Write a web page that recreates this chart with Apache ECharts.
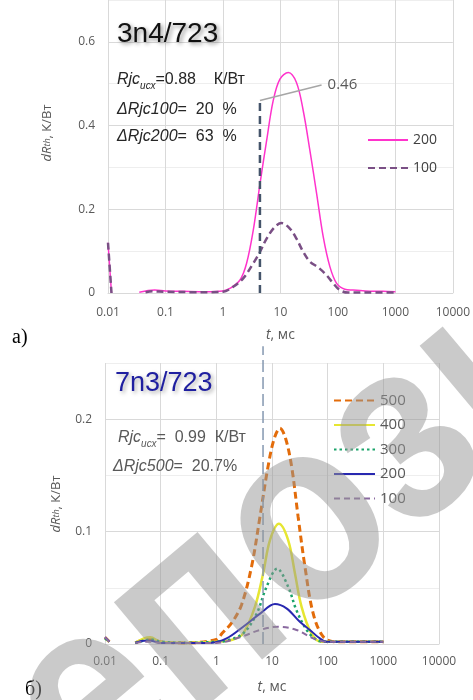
<!DOCTYPE html>
<html>
<head>
<meta charset="utf-8">
<script src="https://cdn.jsdelivr.net/npm/echarts@6/dist/echarts.min.js"></script>
<style>
html, body { margin: 0; padding: 0; background: #fff; }
#chart { width: 473px; height: 700px; }
</style>
</head>
<body>
<div id="chart"></div>
<script>
// а) 3n4/723 — dRth(t), t в мс
var tA200 = [0.01, 0.0115, 0.02, 0.035, 0.05, 0.065, 0.1, 0.2, 0.5, 1, 1.32, 1.98, 2.58, 3.37, 4.4, 5.75, 7.5, 9.8, 13.7, 19, 24.9, 32.6, 42.7, 55.6, 72.5, 95, 132, 183, 300, 600, 1000];
var vA200 = [0.12, 0, null, 0.002, 0.006, 0.007, 0.005, 0.004, 0.003, 0.005, 0.011, 0.031, 0.071, 0.15, 0.26, 0.364, 0.46, 0.511, 0.527, 0.503, 0.436, 0.34, 0.237, 0.134, 0.063, 0.023, 0.009, 0.007, 0.005, 0.004, 0.003];
var tA100 = [0.01, 0.0115, 0.02, 0.045, 0.06, 0.1, 0.3, 0.6, 1, 1.51, 2.25, 3.37, 4.4, 5.75, 8.0, 10.5, 14.6, 19, 25, 32.6, 45.5, 63, 83, 108, 150, 300, 1000];
var vA100 = [0.12, 0, null, 0.002, 0.004, 0.003, 0.002, 0.002, 0.003, 0.015, 0.035, 0.071, 0.098, 0.13, 0.158, 0.167, 0.154, 0.13, 0.098, 0.075, 0.061, 0.043, 0.023, 0.007, 0.001, 0.001, 0.001];
var markAT = [4.4, 4.4], markAV = [0, 0.46];
var noteAT = [4.4, 52], noteAV = [0.46, 0.497];

// б) 7n3/723
var tB500 = [0.01, 0.012, 0.02, 0.035, 0.05, 0.065, 0.1, 0.3, 1, 1.27, 1.9, 2.84, 4.3, 6.07, 8.5, 11, 13.9, 17.5, 22.5, 29.5, 39, 55, 83, 130, 300, 1000];
var vB500 = [0.006, 0.002, null, 0.001, 0.004, 0.005, 0.002, 0.001, 0.004, 0.0095, 0.019, 0.035, 0.069, 0.113, 0.158, 0.183, 0.192, 0.183, 0.158, 0.113, 0.069, 0.027, 0.0065, 0.002, 0.002, 0.002];
var tB400 = [0.01, 0.012, 0.02, 0.035, 0.05, 0.065, 0.1, 0.3, 1, 2, 3.04, 4.93, 6.95, 9.2, 13.3, 19.5, 25.8, 34, 51, 78, 130, 300, 1000];
var vB400 = [0.005, 0.002, null, 0.001, 0.005, 0.006, 0.002, 0.001, 0.002, 0.004, 0.0095, 0.033, 0.063, 0.0925, 0.107, 0.0925, 0.063, 0.033, 0.0095, 0.002, 0.002, 0.002, 0.002];
var tB300 = [0.01, 0.012, 0.02, 0.035, 0.05, 0.065, 0.1, 0.3, 1, 1.53, 3.04, 5.3, 8.0, 12.4, 19.5, 27.5, 42, 64, 100, 300, 1000];
var vB300 = [0.005, 0.002, null, 0.001, 0.003, 0.004, 0.002, 0.001, 0.002, 0.003, 0.0095, 0.027, 0.051, 0.067, 0.051, 0.03, 0.0125, 0.0035, 0.002, 0.002, 0.002];
var tB200 = [0.01, 0.012, 0.02, 0.035, 0.05, 0.065, 0.1, 0.3, 0.77, 1.53, 3.04, 6.1, 11.3, 18.2, 31.6, 48, 68, 95, 200, 1000];
var vB200 = [0.006, 0.002, null, 0.001, 0.003, 0.003, 0.001, 0.001, 0.001, 0.005, 0.0154, 0.027, 0.0356, 0.0317, 0.0198, 0.0125, 0.006, 0.002, 0.002, 0.002];
var tB100 = [0.01, 0.012, 0.02, 0.035, 0.05, 0.065, 0.1, 0.3, 1, 2.65, 6.1, 12.9, 27.5, 55, 95, 200, 1000];
var vB100 = [0.006, 0.002, null, 0.001, 0.002, 0.002, 0.001, 0.001, 0.001, 0.006, 0.0125, 0.0154, 0.0125, 0.005, 0.002, 0.002, 0.002];
var markBT = [6.9, 6.9], markBV = [0, 0.265];

var chart = echarts.init(document.getElementById('chart'));

function pairs(t, v) {
  return t.map(function (x, i) { return [x, v[i]]; });
}
function curve(name, idx, t, v, color, width, type) {
  return {
    name: name, type: 'line', xAxisIndex: idx, yAxisIndex: idx,
    data: pairs(t, v), symbol: 'none', smooth: 0.35,
    lineStyle: { color: color, width: width, type: type },
    itemStyle: { color: color }, z: 3
  };
}
function xAx(idx) {
  return {
    type: 'log', logBase: 10, min: 0.01, max: 10000, gridIndex: idx,
    name: '{i|t}, мс', nameLocation: 'middle', nameGap: idx === 0 ? 35 : 36,
    nameTextStyle: { fontSize: 14, color: '#595959', fontFamily: 'Open Sans',
      rich: { i: { fontStyle: 'italic', fontSize: 14, color: '#595959', fontFamily: 'Open Sans' } } },
    axisLine: { show: true, lineStyle: { color: '#d9d9d9', width: 1 } },
    axisTick: { show: false },
    axisLabel: { color: '#595959', fontSize: 12, fontFamily: 'Open Sans', margin: idx === 0 ? 14 : 12,
      formatter: function (v) { return String(+v.toPrecision(2)); } },
    splitLine: { show: true, lineStyle: { color: '#d9d9d9', width: 1 } }
  };
}
function yAx(idx, max, step) {
  return {
    type: 'value', min: 0, max: max, interval: step, gridIndex: idx,
    axisLine: { show: false }, axisTick: { show: false },
    axisLabel: { color: '#595959', fontSize: 12, fontFamily: 'Open Sans', margin: 13,
      formatter: function (v) { var k = Math.round(v / step); return k % 2 === 0 ? String(+(k * step).toFixed(2)) : ''; } },
    splitLine: { show: true, lineStyle: { color: ['#d9d9d9', '#eeeeee'], width: 1 } }
  };
}
var nameRich = {
  i: { fontStyle: 'italic', fontSize: 13, fill: '#595959', fontFamily: 'Open Sans' },
  s: { fontStyle: 'italic', fontSize: 9, fill: '#595959', fontFamily: 'Open Sans' },
  n: { fontSize: 13, fill: '#595959', fontFamily: 'Open Sans' }
};
function infoRich(col) {
  return {
    i: { fontStyle: 'italic', fontSize: 16, lineHeight: 22, fill: col, fontFamily: 'Liberation Sans' },
    s: { fontStyle: 'italic', fontSize: 10, lineHeight: 10, verticalAlign: 'bottom', fill: col, fontFamily: 'Liberation Sans' },
    n: { fontSize: 16, lineHeight: 22, fill: col, fontFamily: 'Liberation Sans' }
  };
}
function txt(x, y, text, extra) {
  var st = { text: text, align: 'left', verticalAlign: 'middle', textAlign: 'left', textVerticalAlign: 'middle' };
  for (var k in extra) st[k] = extra[k];
  return { type: 'text', x: x, y: y, z: 5, style: st };
}

var option = {
  animation: false,
  backgroundColor: '#fff',
  grid: [
    { left: 108, top: 0, width: 345, height: 293 },
    { left: 105, top: 363, width: 334, height: 281 }
  ],
  xAxis: [xAx(0), xAx(1)],
  yAxis: [yAx(0, 0.7, 0.1), yAx(1, 0.25, 0.05)],
  legend: [
    { data: ['a200', 'a100'], orient: 'vertical', left: 362, top: 128, itemWidth: 40, itemHeight: 14, itemGap: 14,
      itemStyle: { opacity: 0 }, formatter: function (n) { return n.slice(1); },
      textStyle: { fontSize: 14, color: '#404040', fontFamily: 'Open Sans', lineHeight: 14 } },
    { data: ['b500', 'b400', 'b300', 'b200', 'b100'], orient: 'vertical', left: 328, top: 388, itemWidth: 41, itemHeight: 14, itemGap: 9.5,
      itemStyle: { opacity: 0 }, formatter: function (n) { return n.slice(1); },
      textStyle: { fontSize: 15, color: '#595959', fontFamily: 'Open Sans', lineHeight: 14 } }
  ],
  series: [
    curve('a200', 0, tA200, vA200, '#ff33cc', 1.5, 'solid'),
    curve('a100', 0, tA100, vA100, '#7a4f85', 2.5, [7, 4]),
    { type: 'line', xAxisIndex: 0, yAxisIndex: 0, data: pairs(markAT, markAV), symbol: 'none', z: 4,
      lineStyle: { color: '#44546a', width: 2.5, type: [8, 5] } },
    { type: 'line', xAxisIndex: 0, yAxisIndex: 0, data: pairs(noteAT, noteAV), symbol: 'none', z: 4,
      lineStyle: { color: '#a6a6a6', width: 1.5 },
      endLabel: { show: true, formatter: '0.46', color: '#595959', fontSize: 15, fontFamily: 'Open Sans', distance: 6 } },
    curve('b500', 1, tB500, vB500, '#e36c0a', 3, [7, 4]),
    curve('b400', 1, tB400, vB400, '#e6e632', 2.5, 'solid'),
    curve('b300', 1, tB300, vB300, '#1aa36a', 2.5, [2.5, 3]),
    curve('b200', 1, tB200, vB200, '#2828b0', 2, 'solid'),
    curve('b100', 1, tB100, vB100, '#8a6aa0', 2, [6, 4]),
    { type: 'line', xAxisIndex: 1, yAxisIndex: 1, data: pairs(markBT, markBV), symbol: 'none', z: 4, clip: false,
      lineStyle: { color: '#8497b0', width: 1.5, type: [12, 5] } }
  ],
  graphic: [
    txt(117, 34, '3n4/723', { fontSize: 28, fontFamily: 'Liberation Sans', fill: '#111',
      textShadowColor: 'rgba(0,0,0,0.45)', textShadowBlur: 4, textShadowOffsetX: 2, textShadowOffsetY: 2 }),
    txt(117, 80, '{i|Rjc}{s|исх}{n|=0.88    К/Вт}', { rich: infoRich('#262626') }),
    txt(117, 110, '{i|ΔRjc100}{n|=  20  %}', { rich: infoRich('#262626') }),
    txt(117, 137, '{i|ΔRjc200}{n|=  63  %}', { rich: infoRich('#262626') }),
    txt(115, 384, '7n3/723', { fontSize: 27, fontFamily: 'Liberation Sans', fill: '#1f1fa0',
      textShadowColor: 'rgba(0,0,0,0.35)', textShadowBlur: 4, textShadowOffsetX: 2, textShadowOffsetY: 2 }),
    txt(118, 438, '{i|Rjc}{s|исх}{n|=  0.99  К/Вт}', { rich: infoRich('#595959') }),
    txt(113, 467, '{i|ΔRjc500}{n|=  20.7%}', { rich: infoRich('#595959') }),
    { type: 'text', x: 47, y: 133, rotation: Math.PI / 2, z: 5,
      style: { text: '{i|dR}{s|th}{n|, К/Вт}', rich: nameRich, align: 'center', verticalAlign: 'middle', textAlign: 'center', textVerticalAlign: 'middle' } },
    { type: 'text', x: 56, y: 504, rotation: Math.PI / 2, z: 5,
      style: { text: '{i|dR}{s|th}{n|, К/Вт}', rich: nameRich, align: 'center', verticalAlign: 'middle', textAlign: 'center', textVerticalAlign: 'middle' } },
    txt(12, 338, 'а)', { fontSize: 20, fontFamily: 'Liberation Serif', fill: '#000' }),
    txt(25, 690, 'б)', { fontSize: 20, fontFamily: 'Liberation Serif', fill: '#000' }),
    { type: 'text', x: -66, y: 840, rotation: 40 * Math.PI / 180, scaleY: 1.12, z: 6, silent: true,
      style: { text: 'репозиторий', fontSize: 235, fontWeight: 'bold', fontFamily: 'Liberation Sans',
        fill: 'rgba(150,150,150,0.5)', align: 'left', verticalAlign: 'middle', textAlign: 'left', textVerticalAlign: 'middle' } }
  ]
};
chart.setOption(option);
</script>
</body>
</html>
